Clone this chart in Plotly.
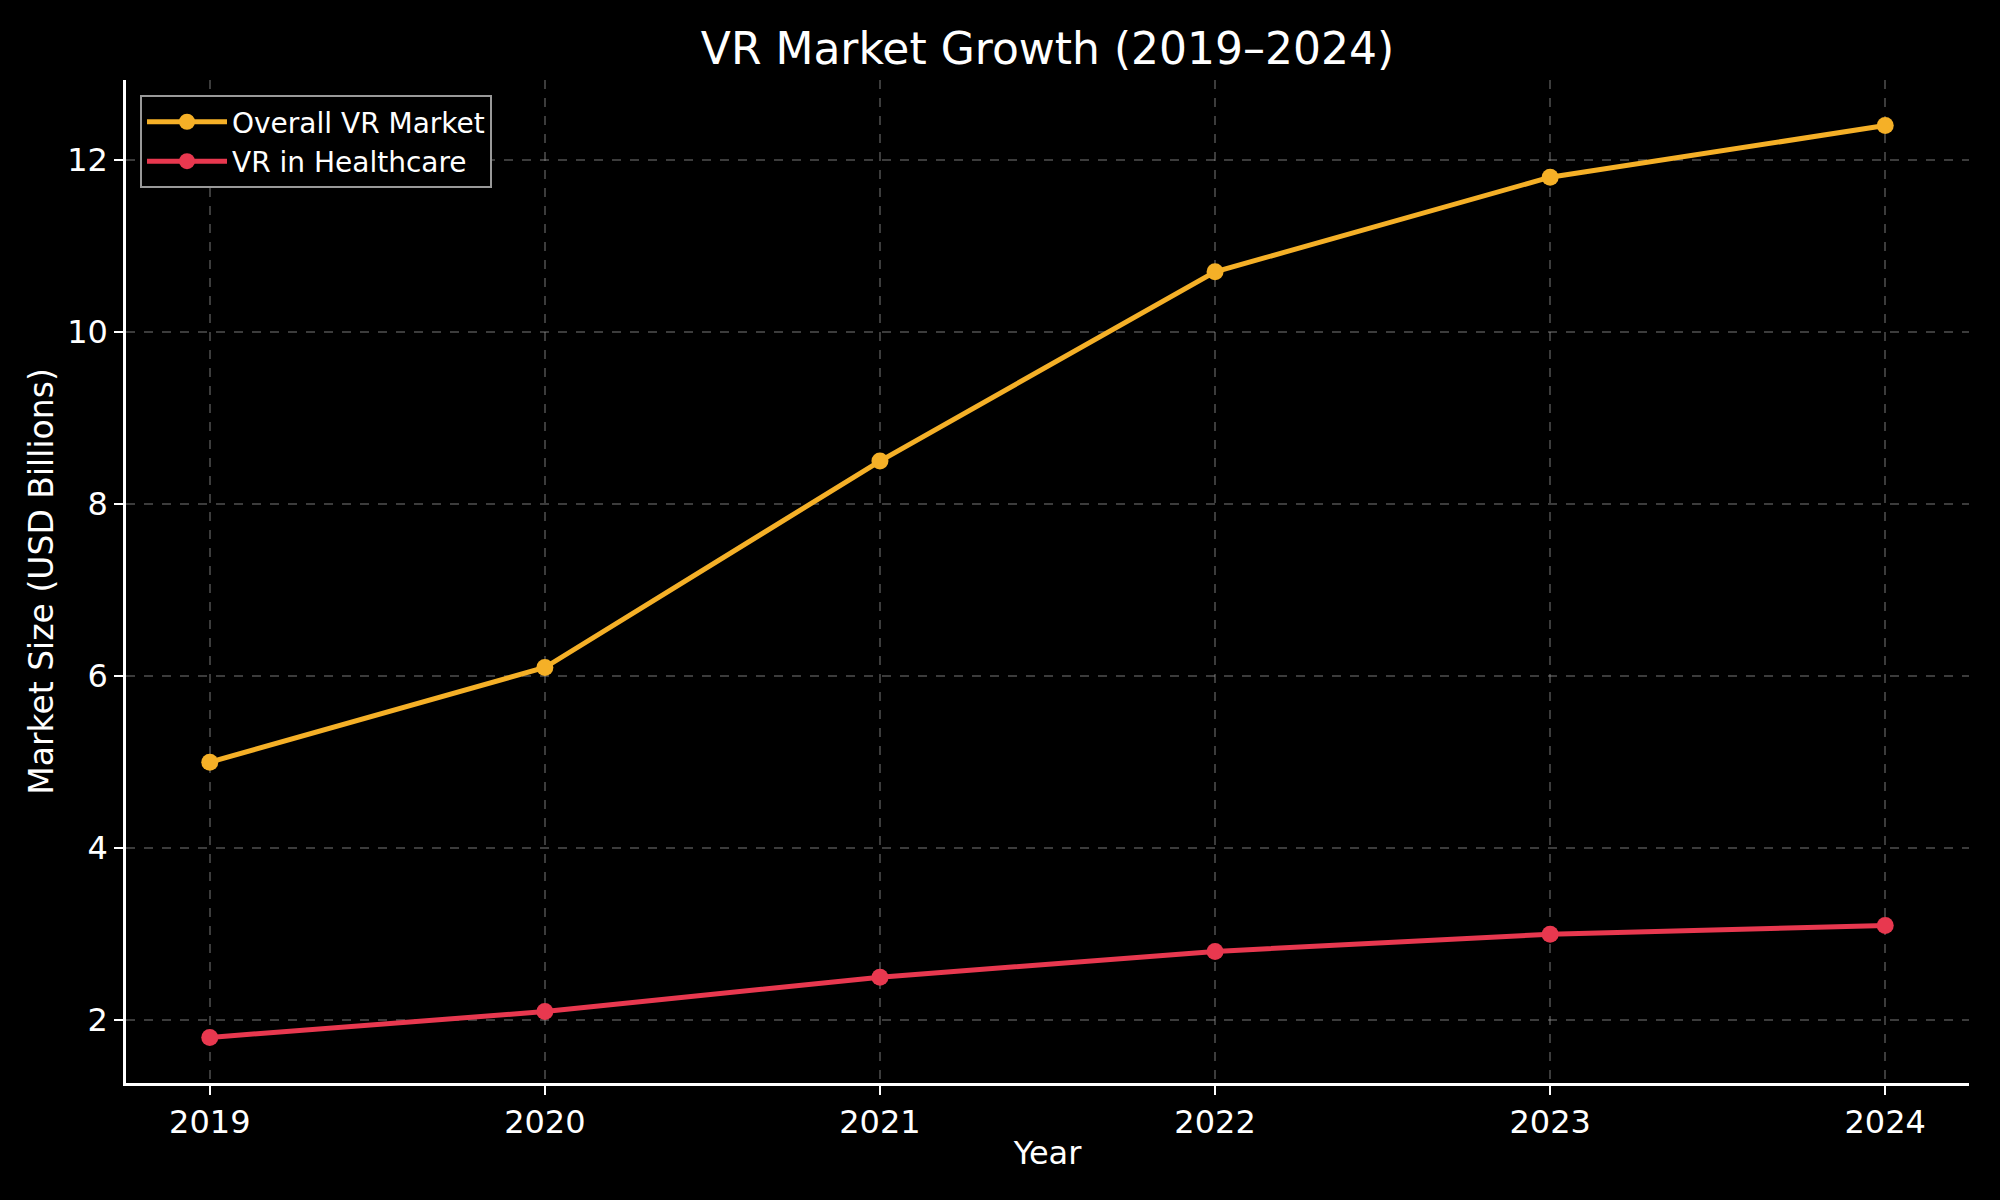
import plotly.graph_objects as go

years = [2019, 2020, 2021, 2022, 2023, 2024]
overall_vr = [5.0, 6.1, 8.5, 10.7, 11.8, 12.4]
vr_healthcare = [1.8, 2.1, 2.5, 2.8, 3.0, 3.1]
tick_years = ["2019", "2020", "2021", "2022", "2023", "2024"]

ORANGE = "#F5B027"
RED = "#E8384F"
FONT = "DejaVu Sans"

fig = go.Figure()
fig.add_trace(go.Scatter(x=years, y=overall_vr, mode="lines+markers", name="Overall VR Market",
                         line=dict(color=ORANGE, width=5), marker=dict(size=17, color=ORANGE)))
fig.add_trace(go.Scatter(x=years, y=vr_healthcare, mode="lines+markers", name="VR in Healthcare",
                         line=dict(color=RED, width=5), marker=dict(size=17, color=RED)))

axis_common = dict(
    showline=True, linecolor="white", linewidth=2.5, mirror=False,
    ticks="outside", tickcolor="white", ticklen=9, tickwidth=2,
    showgrid=True, gridcolor="rgba(150,150,150,0.4)", gridwidth=1.5, griddash="dash",
    zeroline=False, tickfont=dict(family=FONT, size=32, color="white"),
)

fig.update_layout(
    width=2000, height=1200,
    paper_bgcolor="black", plot_bgcolor="black",
    margin=dict(l=126, r=31, t=80, b=117),
    title=dict(text="VR Market Growth (2019–2024)", x=(126 + 1969) / 2 / 2000, xanchor="center",
               y=1 - 49 / 1200, yanchor="middle", font=dict(family=FONT, size=44, color="white")),
    xaxis=dict(axis_common, range=[2018.75, 2024.25], tickvals=years, ticktext=tick_years,
               title=dict(text="Year", font=dict(family=FONT, size=32, color="white"), standoff=2)),
    yaxis=dict(axis_common, range=[1.27, 12.93], tickvals=[2, 4, 6, 8, 10, 12],
               title=dict(text="Market Size (USD Billions)", font=dict(family=FONT, size=33, color="white"), standoff=4)),
    legend=dict(x=0.0076, y=0.985, xanchor="left", yanchor="top",
                bgcolor="black", bordercolor="#999999", borderwidth=2,
                font=dict(family=FONT, size=28, color="white"), itemwidth=80),
    showlegend=True,
)

fig.write_html("out.html")
